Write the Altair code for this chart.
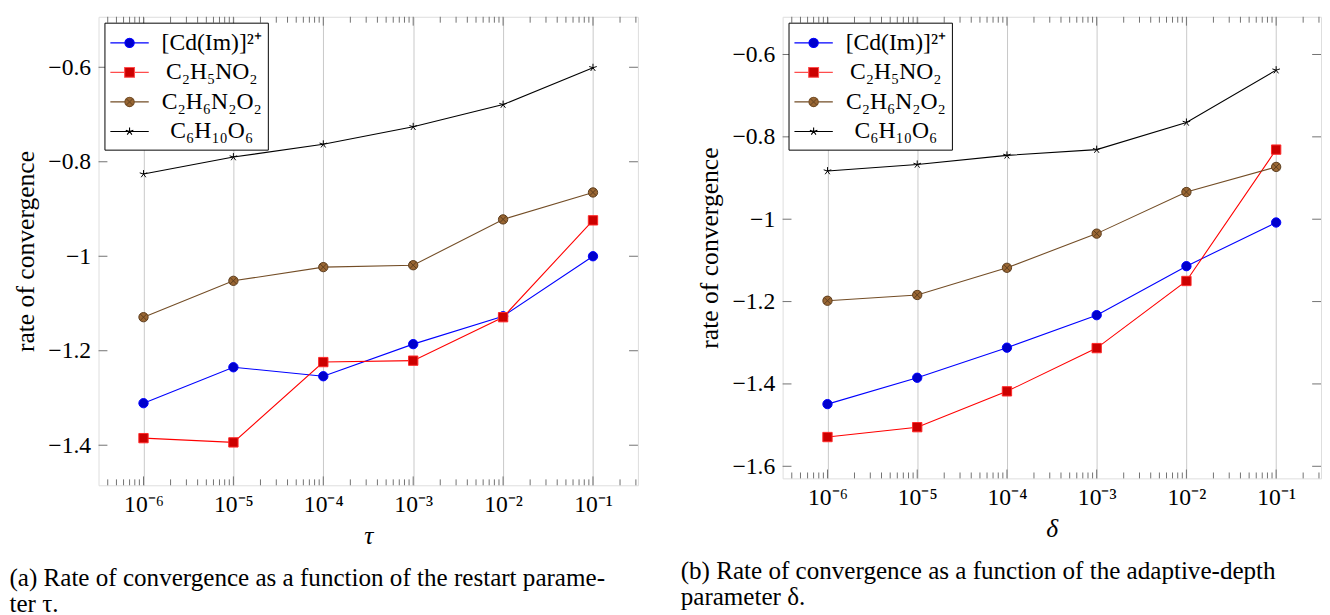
import json
import altair as alt
import pandas as pd

# ---------------- data ----------------
X_VALUES = [1e-6, 1e-5, 1e-4, 1e-3, 1e-2, 1e-1]
X_TICK_LABELS = ["10⁻⁶", "10⁻⁵", "10⁻⁴", "10⁻³", "10⁻²", "10⁻¹"]
SERIES = ["[Cd(Im)]²⁺", "C₂H₅NO₂", "C₂H₆N₂O₂", "C₆H₁₀O₆"]

# (a) restart parameter tau
TAU_CDIM = [-1.311, -1.235, -1.254, -1.186, -1.127, -1.000]
TAU_GLY = [-1.385, -1.394, -1.224, -1.221, -1.129, -0.924]
TAU_GLYGLY = [-1.129, -1.052, -1.023, -1.019, -0.922, -0.865]
TAU_C6 = [-0.826, -0.790, -0.763, -0.726, -0.679, -0.601]

# (b) adaptive-depth parameter delta
DELTA_CDIM = [-1.449, -1.385, -1.312, -1.233, -1.114, -1.008]
DELTA_GLY = [-1.529, -1.505, -1.418, -1.313, -1.150, -0.831]
DELTA_GLYGLY = [-1.198, -1.184, -1.118, -1.035, -0.934, -0.873]
DELTA_C6 = [-0.883, -0.867, -0.845, -0.831, -0.765, -0.638]

Y_TICKS_A = [-1.4, -1.2, -1.0, -0.8, -0.6]
Y_TICKS_B = [-1.6, -1.4, -1.2, -1.0, -0.8, -0.6]

CAPTION_A = ["(a) Rate of convergence as a function of the restart parame-", "ter τ."]
CAPTION_B = ["(b) Rate of convergence as a function of the adaptive-depth", "parameter δ."]
Y_TITLE = "rate of convergence"

# ---------------- styles ----------------
FONT = "Liberation Serif"
TICK_FS = 24
TITLE_FS = 26
CAP_FS = 25.5
LINE_COLOR = ["#0000ff", "#ff0000", "#734d26", "#000000"]
MARK_FILL = ["#0000cc", "#cc0000", "#996633", "#000000"]
MARK_STROKE = ["#0000ff", "#ff2a2a", "#5c3d1f", "#000000"]
LEGEND_STROKE = ["#0000ff", "#ff4d4d", "#734d26", "#000000"]
GRID_COLOR = "#c8c8c8"
TICK_COLOR = "#707070"
X_DOMAIN = [10 ** -6.5, 10 ** -0.5]


def circle(r):
    return f"M{r},0A{r},{r},0,1,1,{-r},0A{r},{r},0,1,1,{r},0Z"


def square(s):
    return f"M{-s},{-s}L{s},{-s}L{s},{s}L{-s},{s}Z"


def cross(d):
    return f"M{-d},{-d}L{d},{d}M{-d},{d}L{d},{-d}"


def star(q):
    pts = [(0, -1), (0.951, -0.309), (0.588, 0.809), (-0.588, 0.809), (-0.951, -0.309)]
    return "".join(f"M0,0L{q * x:.3f},{q * y:.3f}" for x, y in pts)


HL = 1.444  # legend line half length (units of symbol radius)


def seg(c):
    return f"M{-HL},0L{-c},0M{c},0L{HL},0"


MARK_SHAPE = ["circle", "square", circle(1) + cross(0.707), star(0.85)]
LEGEND_SHAPE = [
    seg(0.352) + circle(0.352),
    seg(0.37) + square(0.37),
    seg(0.352) + circle(0.352) + cross(0.249),
    f"M{-HL},0L{HL},0" + star(0.3),
]

MINOR_TICKS = [m * 10.0 ** k for k in range(-7, 0) for m in range(2, 10)
               if X_DOMAIN[0] <= m * 10.0 ** k <= X_DOMAIN[1]]

label_expr = json.dumps(X_TICK_LABELS, ensure_ascii=False) + "[round(log(datum.value)/LN10)+6]"


def panel(values, y_ticks, y_dom, w, h, xtitle, caption, cap_dx):
    rows = []
    for i, (s, ys) in enumerate(zip(SERIES, values)):
        for x, y in zip(X_VALUES, ys):
            rows.append({"series": s, "x": x, "y": y, "lc": LINE_COLOR[i],
                         "mf": MARK_FILL[i], "ms": MARK_STROKE[i], "mk": MARK_SHAPE[i]})
    df = pd.DataFrame(rows)
    xs = alt.Scale(type="log", domain=X_DOMAIN, nice=False)
    ys = alt.Scale(domain=y_dom, nice=False, zero=False)

    base = alt.Chart(df)
    lines = base.mark_line(strokeWidth=1.1).encode(
        x=alt.X("x:Q", scale=xs, axis=alt.Axis(
            values=X_VALUES, labelExpr=label_expr, grid=True, gridColor=GRID_COLOR,
            gridWidth=1, ticks=False, tickSize=0, domain=False, labelFont=FONT,
            labelFontSize=TICK_FS, labelColor="black", labelPadding=8, labelFlush=False,
            title=xtitle, titleFont=FONT, titleFontSize=TITLE_FS, titleFontWeight="normal",
            titleFontStyle="italic", titleColor="black", titlePadding=6)),
        y=alt.Y("y:Q", scale=ys, axis=alt.Axis(
            values=y_ticks, format="~g", grid=False, ticks=False, tickSize=0,
            domain=False, labelFont=FONT, labelFontSize=TICK_FS, labelColor="black",
            labelPadding=8, labelFlush=False, title=Y_TITLE, titleFont=FONT,
            titleFontSize=TITLE_FS, titleFontWeight="normal", titleColor="black",
            titlePadding=10)),
        stroke=alt.Stroke("lc:N", scale=None),
        detail="series:N",
        order=alt.Order("x:Q"),
    )
    points = base.mark_point(size=90, strokeWidth=1, opacity=1, fillOpacity=1).encode(
        x=alt.X("x:Q", scale=xs),
        y=alt.Y("y:Q", scale=ys),
        shape=alt.Shape("mk:N", scale=None),
        fill=alt.Fill("mf:N", scale=None),
        stroke=alt.Stroke("ms:N", scale=None),
    )
    lg = alt.Legend(
        title=None, orient="top-left", offset=6, padding=6,
        strokeColor="black", fillColor="white", cornerRadius=0,
        labelFont=FONT, labelFontSize=TICK_FS, labelColor="black", labelAlign="center",
        symbolSize=729, symbolStrokeWidth=1.1, symbolOffset=5, symbolOpacity=1,
        labelOffset=69, rowPadding=3, labelLimit=400)
    leg = base.mark_point(opacity=0, size=10, filled=True).encode(
        x=alt.X("x:Q", scale=xs),
        y=alt.Y("y:Q", scale=ys),
        shape=alt.Shape("series:N", scale=alt.Scale(domain=SERIES, range=LEGEND_SHAPE), legend=lg),
        fill=alt.Fill("series:N", scale=alt.Scale(domain=SERIES, range=MARK_FILL), legend=lg),
        stroke=alt.Stroke("series:N", scale=alt.Scale(domain=SERIES, range=LEGEND_STROKE), legend=lg),
    )

    tdf_major = pd.DataFrame({"v": X_VALUES})
    tdf_minor = pd.DataFrame({"v": MINOR_TICKS})
    ydf = pd.DataFrame({"v": y_ticks})
    tick_layers = []
    for d, ln in ((tdf_major, 9), (tdf_minor, 6)):
        for y0, y1 in ((h, h - ln), (0, ln)):
            tick_layers.append(alt.Chart(d).mark_rule(color=TICK_COLOR, strokeWidth=1).encode(
                x=alt.X("v:Q", scale=xs), y=alt.value(y0), y2=alt.value(y1)))
    for x0, x1 in ((0, 9), (w, w - 9)):
        tick_layers.append(alt.Chart(ydf).mark_rule(color=TICK_COLOR, strokeWidth=1).encode(
            y=alt.Y("v:Q", scale=ys), x=alt.value(x0), x2=alt.value(x1)))

    return alt.layer(lines, *tick_layers, points, leg).properties(
        width=w, height=h,
        title=alt.TitleParams(text=caption, orient="bottom", anchor="start", frame="bounds",
                              font=FONT, fontSize=CAP_FS, fontWeight="normal", color="black",
                              offset=18, lineHeight=26.5, dx=cap_dx),
    )


left = panel([TAU_CDIM, TAU_GLY, TAU_GLYGLY, TAU_C6], Y_TICKS_A, [-1.4848, -0.4931],
             548, 476, "τ", CAPTION_A, -3)
right = panel([DELTA_CDIM, DELTA_GLY, DELTA_GLYGLY, DELTA_C6], Y_TICKS_B, [-1.6294, -0.5084],
              547, 469, "δ", CAPTION_B, -16)

chart = alt.hconcat(left, right, spacing=41).resolve_scale(
    shape="independent", fill="independent", stroke="independent"
).resolve_legend(shape="independent", fill="independent", stroke="independent").properties(
    padding={"left": 0, "top": 3, "right": 0, "bottom": 0}
).configure_view(stroke="#222222", strokeWidth=1.1).configure(background="white")

chart.save("out.html", embed_options={"renderer": "svg", "actions": False})
